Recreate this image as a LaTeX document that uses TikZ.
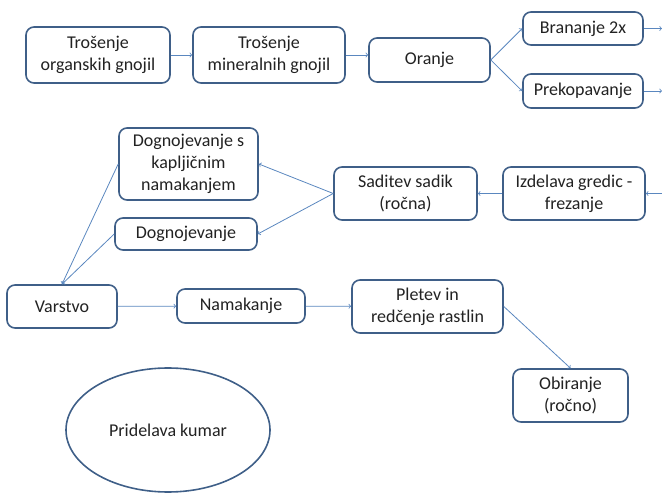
\documentclass[tikz,border=0pt]{standalone}
\usepackage{fontspec}
\setmainfont{Carlito}
\usetikzlibrary{shapes.geometric}
\definecolor{boxline}{HTML}{3F5F88}
\definecolor{arrline}{HTML}{5A87BF}
\definecolor{txt}{HTML}{222222}

\begin{document}
\begin{tikzpicture}[x=1pt, y=-1pt,
	korak/.style={draw=boxline, line width=1.6pt, rounded corners=8pt, fill=white,
		inner sep=0pt, align=center, text=txt, font=\fontsize{18}{22}\selectfont},
	pot/.style={->, draw=arrline, line width=0.8pt}]
\useasboundingbox (0,0) rectangle (662,494);

\node [korak, minimum width=144pt, minimum height=56pt] (organ) at (98,55) {Trošenje\\organskih gnojil};
\node [korak, minimum width=152pt, minimum height=56pt] (mineral) at (269,55) {Trošenje\\mineralnih gnojil};
\node [korak, minimum width=121pt, minimum height=44pt] (oranje) at (429.5,60) {Oranje};
\node [korak, minimum width=120pt, minimum height=33pt] (branje) at (583,28.5) {Brananje 2x};
\node [korak, minimum width=120pt, minimum height=34pt] (prekop) at (583,91) {Prekopavanje};

\node [korak, minimum width=139pt, minimum height=72pt] (kaplj) at (188.5,164) {Dognojevanje s\\kapljičnim\\namakanjem};
\node [korak, minimum width=142pt, minimum height=32pt] (dognoj) at (186,234) {Dognojevanje};
\node [korak, minimum width=143pt, minimum height=53pt] (sadik) at (405.5,193.5) {Saditev sadik\\(ročna)};
\node [korak, minimum width=142pt, minimum height=53pt] (gredic) at (574,193.5) {Izdelava gredic -\\frezanje};

\node [korak, minimum width=110pt, minimum height=43pt] (varstvo) at (62,306.5) {Varstvo};
\node [korak, minimum width=128pt, minimum height=34pt] (namak) at (241,306) {Namakanje};
\node [korak, minimum width=151pt, minimum height=53pt] (pletev) at (427.5,306.5) {Pletev in\\redčenje rastlin};
\node [korak, minimum width=115pt, minimum height=53pt] (obir) at (570.5,395.5) {Obiranje\\(ročno)};

\node [draw=boxline, line width=1.6pt, ellipse, inner sep=0pt, minimum width=204pt, minimum height=124pt,
	text=txt, font=\fontsize{18}{22}\selectfont] (kumar) at (168,430) {Pridelava kumar};

\coordinate (robB) at (662,28.5);
\coordinate (robP) at (662,91);
\coordinate (robG) at (664,193.5);

\draw [pot] (organ) -- (mineral);
\draw [pot] (mineral.east) -- (mineral.east -| oranje.west);
\draw [pot] (oranje.east) -- (branje.west);
\draw [pot] (oranje.east) -- (prekop.west);
\draw [pot] (branje) -- (robB);
\draw [pot] (prekop) -- (robP);
\draw [pot] (robG) -- (gredic);
\draw [pot] (gredic) -- (sadik);
\draw [pot] (sadik.west) -- (kaplj.east);
\draw [pot] (sadik.west) -- (dognoj.east);
\draw [pot] (kaplj.west) -- (varstvo.north);
\draw [pot] (dognoj.west) -- (varstvo.north);
\draw [pot] (varstvo) -- (namak);
\draw [pot] (namak) -- (pletev);
\draw [pot] (pletev.east) -- (obir.north);

\end{tikzpicture}
\end{document}
